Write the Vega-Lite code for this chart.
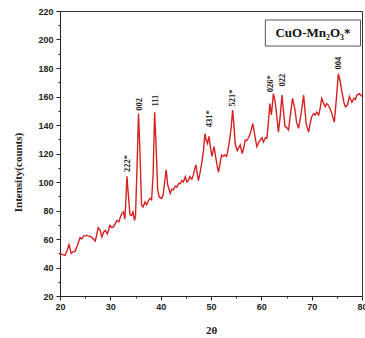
{
  "$schema": "https://vega.github.io/schema/vega-lite/v6.json",
  "width": 302,
  "height": 285,
  "autosize": {"type": "none"},
  "padding": {"left": 60, "top": 11, "right": 3, "bottom": 42},
  "background": "white",
  "config": {
    "view": {"stroke": "#333", "strokeWidth": 1},
    "axis": {
      "domainColor": "#222",
      "tickColor": "#222",
      "labelColor": "#222",
      "labelFont": "Liberation Sans",
      "labelFontWeight": "bold",
      "labelFontSize": 9,
      "titleFont": "Liberation Serif",
      "titleFontWeight": "bold",
      "titleFontSize": 11,
      "titleColor": "#222",
      "grid": false
    }
  },
  "datasets": {
    "xrd": [
      {"t": 20.0, "i": 50}, {"t": 20.5, "i": 49}, {"t": 21.0, "i": 48.5}, {"t": 21.4, "i": 52}, {"t": 21.8, "i": 56},
      {"t": 22.2, "i": 50}, {"t": 22.6, "i": 51}, {"t": 23.0, "i": 51.5}, {"t": 23.5, "i": 56}, {"t": 24.0, "i": 61},
      {"t": 24.3, "i": 60}, {"t": 24.7, "i": 62}, {"t": 25.2, "i": 62.5}, {"t": 25.7, "i": 62}, {"t": 26.2, "i": 61.5},
      {"t": 26.6, "i": 60}, {"t": 27.0, "i": 58.5}, {"t": 27.3, "i": 63}, {"t": 27.6, "i": 68}, {"t": 28.0, "i": 66},
      {"t": 28.3, "i": 61.5}, {"t": 28.7, "i": 65}, {"t": 29.0, "i": 66}, {"t": 29.4, "i": 63.5}, {"t": 29.9, "i": 69.5},
      {"t": 30.3, "i": 68}, {"t": 30.6, "i": 68.5}, {"t": 31.0, "i": 71}, {"t": 31.3, "i": 73}, {"t": 31.7, "i": 72},
      {"t": 32.0, "i": 75.5}, {"t": 32.3, "i": 78}, {"t": 32.6, "i": 79}, {"t": 32.9, "i": 74}, {"t": 33.1, "i": 88},
      {"t": 33.3, "i": 104}, {"t": 33.6, "i": 90}, {"t": 33.9, "i": 77}, {"t": 34.2, "i": 76.5}, {"t": 34.5, "i": 79},
      {"t": 34.8, "i": 73}, {"t": 35.0, "i": 76}, {"t": 35.3, "i": 110}, {"t": 35.6, "i": 148}, {"t": 35.9, "i": 120},
      {"t": 36.2, "i": 84}, {"t": 36.5, "i": 82.5}, {"t": 36.9, "i": 86}, {"t": 37.2, "i": 84}, {"t": 37.6, "i": 87},
      {"t": 37.9, "i": 88.5}, {"t": 38.2, "i": 87.5}, {"t": 38.5, "i": 105}, {"t": 38.8, "i": 149}, {"t": 39.1, "i": 125},
      {"t": 39.4, "i": 95}, {"t": 39.7, "i": 89.5}, {"t": 40.2, "i": 88.5}, {"t": 40.5, "i": 91}, {"t": 40.8, "i": 100},
      {"t": 41.1, "i": 108.5}, {"t": 41.4, "i": 98}, {"t": 41.9, "i": 92}, {"t": 42.2, "i": 95}, {"t": 42.5, "i": 94.5},
      {"t": 42.9, "i": 97}, {"t": 43.2, "i": 96.5}, {"t": 43.6, "i": 99}, {"t": 43.9, "i": 99}, {"t": 44.2, "i": 101},
      {"t": 44.5, "i": 100}, {"t": 44.9, "i": 103.7}, {"t": 45.2, "i": 100}, {"t": 45.5, "i": 101}, {"t": 45.8, "i": 103.7},
      {"t": 46.2, "i": 102}, {"t": 46.5, "i": 105}, {"t": 46.8, "i": 109.6}, {"t": 47.0, "i": 112}, {"t": 47.3, "i": 105},
      {"t": 47.5, "i": 101}, {"t": 47.8, "i": 106}, {"t": 48.2, "i": 114}, {"t": 48.5, "i": 122}, {"t": 48.8, "i": 134},
      {"t": 49.0, "i": 130}, {"t": 49.3, "i": 127}, {"t": 49.6, "i": 132}, {"t": 49.9, "i": 124}, {"t": 50.2, "i": 118},
      {"t": 50.6, "i": 124.8}, {"t": 51.0, "i": 116}, {"t": 51.3, "i": 110}, {"t": 51.5, "i": 107}, {"t": 51.8, "i": 113},
      {"t": 52.1, "i": 119}, {"t": 52.5, "i": 118}, {"t": 52.8, "i": 119}, {"t": 53.1, "i": 118}, {"t": 53.3, "i": 121},
      {"t": 53.7, "i": 129.5}, {"t": 54.0, "i": 138}, {"t": 54.3, "i": 150.5}, {"t": 54.6, "i": 138}, {"t": 54.8, "i": 127},
      {"t": 55.2, "i": 122}, {"t": 55.5, "i": 124}, {"t": 55.8, "i": 126}, {"t": 56.2, "i": 120}, {"t": 56.5, "i": 124},
      {"t": 56.8, "i": 129.5}, {"t": 57.1, "i": 129}, {"t": 57.4, "i": 130.7}, {"t": 57.8, "i": 134}, {"t": 58.3, "i": 141},
      {"t": 58.6, "i": 135}, {"t": 58.8, "i": 130.7}, {"t": 59.1, "i": 124.8}, {"t": 59.5, "i": 128}, {"t": 59.8, "i": 129.5},
      {"t": 60.1, "i": 131}, {"t": 60.4, "i": 128}, {"t": 60.8, "i": 131}, {"t": 61.1, "i": 130.7}, {"t": 61.4, "i": 142},
      {"t": 61.7, "i": 155}, {"t": 62.0, "i": 147}, {"t": 62.4, "i": 162}, {"t": 62.7, "i": 157}, {"t": 62.9, "i": 151.7},
      {"t": 63.4, "i": 135}, {"t": 63.8, "i": 148}, {"t": 64.1, "i": 161}, {"t": 64.4, "i": 150}, {"t": 64.7, "i": 139},
      {"t": 65.1, "i": 138}, {"t": 65.4, "i": 136.5}, {"t": 65.8, "i": 148}, {"t": 66.2, "i": 158.7}, {"t": 66.7, "i": 150.5},
      {"t": 67.0, "i": 142}, {"t": 67.4, "i": 137.7}, {"t": 67.9, "i": 148}, {"t": 68.4, "i": 161}, {"t": 68.9, "i": 141},
      {"t": 69.4, "i": 135}, {"t": 69.7, "i": 141}, {"t": 70.0, "i": 145.8}, {"t": 70.4, "i": 148}, {"t": 70.7, "i": 147},
      {"t": 71.0, "i": 149}, {"t": 71.4, "i": 147}, {"t": 71.7, "i": 152}, {"t": 72.0, "i": 158.7}, {"t": 72.4, "i": 155},
      {"t": 72.7, "i": 152.8}, {"t": 73.0, "i": 155}, {"t": 73.3, "i": 154}, {"t": 73.7, "i": 151}, {"t": 74.0, "i": 148},
      {"t": 74.5, "i": 142}, {"t": 74.9, "i": 158}, {"t": 75.3, "i": 176}, {"t": 75.7, "i": 170}, {"t": 76.0, "i": 163.4},
      {"t": 76.4, "i": 156}, {"t": 76.7, "i": 152.8}, {"t": 77.1, "i": 154}, {"t": 77.5, "i": 160}, {"t": 78.0, "i": 156},
      {"t": 78.4, "i": 158.7}, {"t": 78.7, "i": 158}, {"t": 79.0, "i": 161}, {"t": 79.5, "i": 162}, {"t": 80.0, "i": 160}
    ],
    "peaks": [
      {"t": 33.3, "i": 107, "label": "222*"},
      {"t": 35.6, "i": 150, "label": "002"},
      {"t": 38.8, "i": 153, "label": "111"},
      {"t": 49.6, "i": 138.5, "label": "431*"},
      {"t": 54.1, "i": 153, "label": "521*"},
      {"t": 61.75, "i": 163, "label": "026*"},
      {"t": 64.2, "i": 167, "label": "022"},
      {"t": 75.3, "i": 179, "label": "004"}
    ],
    "box": [
      {"x1": 60.8, "x2": 79.7, "y1": 195.4, "y2": 213.7, "name": "CuO-Mn₂O₃*", "xc": 70.25, "yc": 204.6}
    ]
  },
  "layer": [
    {
      "data": {"name": "xrd"},
      "mark": {"type": "line", "color": "#d42222", "strokeWidth": 1.4},
      "encoding": {
        "x": {
          "field": "t", "type": "quantitative",
          "scale": {"domain": [20, 80], "nice": false, "zero": false},
          "axis": {"orient": "bottom", "title": "2θ", "values": [20, 30, 40, 50, 60, 70, 80], "tickSize": 4, "labelPadding": 2, "titleY": 34, "titleBaseline": "middle", "labelFlush": false}
        },
        "y": {
          "field": "i", "type": "quantitative",
          "scale": {"domain": [20, 220], "nice": false, "zero": false},
          "axis": {"orient": "left", "title": "Intensity(counts)", "values": [20, 40, 60, 80, 100, 120, 140, 160, 180, 200, 220], "tickSize": 4, "labelPadding": 3, "titleX": -42, "titleY": 161, "titleBaseline": "middle", "titleAlign": "center", "titleAngle": 270}
        }
      }
    },
    {
      "data": {"name": "box"},
      "mark": {"type": "rect", "fill": "white", "stroke": "#555", "strokeWidth": 1},
      "encoding": {
        "x": {"field": "x1", "type": "quantitative", "scale": {"domain": [20, 80], "nice": false, "zero": false},
          "axis": {"orient": "bottom", "title": null, "labels": false, "domain": false, "values": [25, 35, 45, 55, 65, 75], "tickSize": 2}},
        "x2": {"field": "x2"},
        "y": {"field": "y1", "type": "quantitative", "scale": {"domain": [20, 220], "nice": false, "zero": false},
          "axis": {"orient": "left", "title": null, "labels": false, "domain": false, "values": [30, 50, 70, 90, 110, 130, 150, 170, 190, 210], "tickSize": 2}},
        "y2": {"field": "y2"}
      }
    },
    {
      "data": {"name": "box"},
      "mark": {"type": "text", "font": "Liberation Serif", "fontWeight": "bold", "fontSize": 13, "color": "#111", "align": "center", "baseline": "middle"},
      "encoding": {
        "x": {"field": "xc", "type": "quantitative", "axis": null},
        "y": {"field": "yc", "type": "quantitative", "axis": null},
        "text": {"field": "name"}
      }
    },
    {
      "data": {"name": "peaks"},
      "mark": {"type": "text", "font": "Liberation Serif", "fontWeight": "bold", "fontSize": 8.5, "color": "#222", "angle": 270, "align": "left", "baseline": "middle"},
      "encoding": {
        "x": {"field": "t", "type": "quantitative", "axis": null},
        "y": {"field": "i", "type": "quantitative", "axis": null},
        "text": {"field": "label"}
      }
    }
  ],
  "resolve": {"axis": {"x": "independent", "y": "independent"}}
}
